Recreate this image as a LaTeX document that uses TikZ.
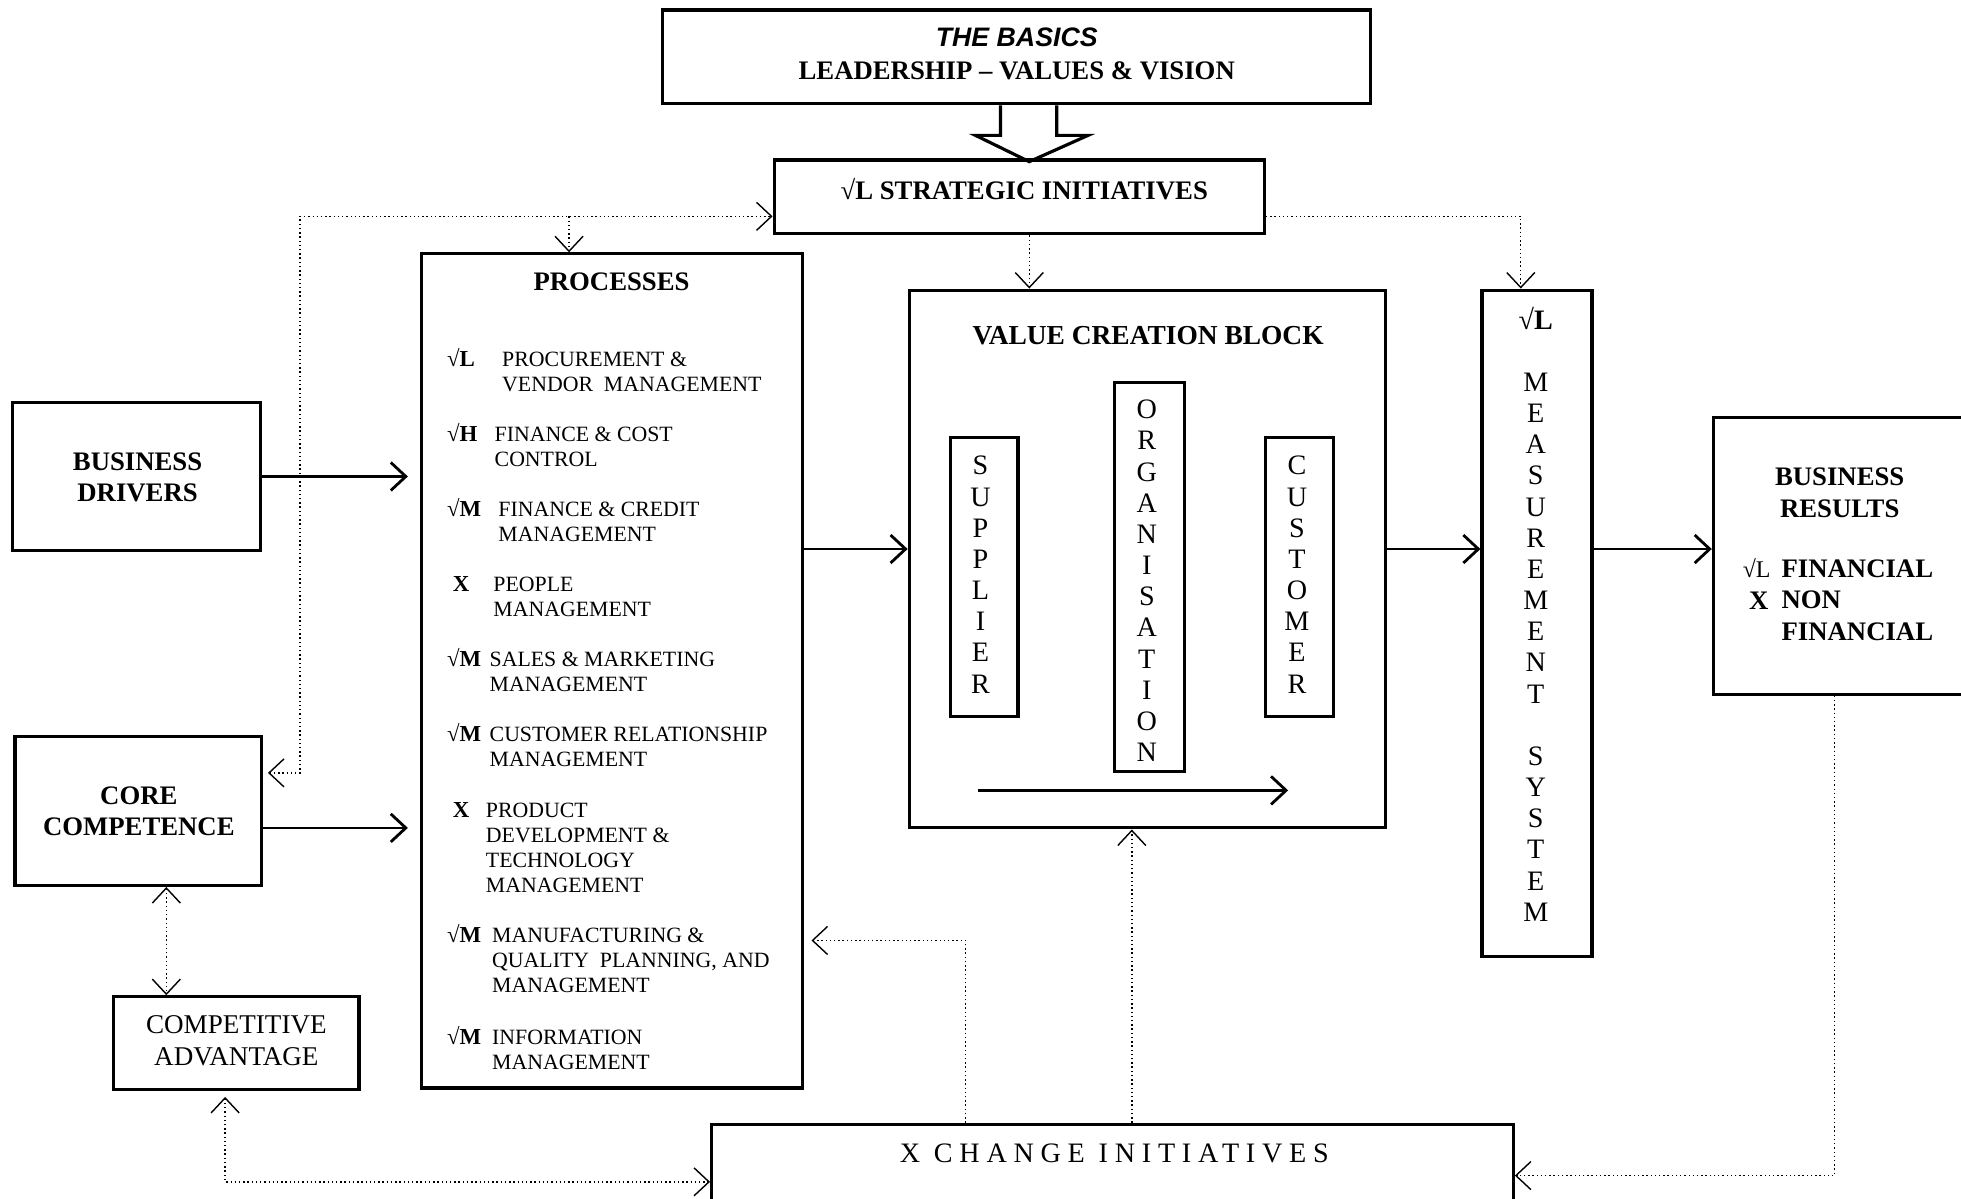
\documentclass[tikz,border=0pt]{standalone}
\usepackage{fontspec}
\setmainfont{Liberation Serif}
\newfontfamily\basicsfont{Liberation Sans}
\newfontfamily\spacedfont[LetterSpace=24]{Liberation Serif}
\usetikzlibrary{arrows.meta,fit}

\tikzset{
  block/.style={draw, line width=0.9pt, inner sep=0pt},
  title/.style={font=\fontsize{7.6}{8.86}\selectfont\bfseries, align=center, inner sep=0pt},
  normaltext/.style={font=\fontsize{7.7}{9.2}\selectfont, align=center, inner sep=0pt},
  letters/.style={font=\fontsize{8}{8.86}\selectfont, align=center, inner sep=0pt},
  chk/.style={font=\fontsize{6.5}{7.11}\selectfont\bfseries, inner sep=0pt, anchor=base west},
  item/.style={font=\fontsize{6.2}{7.11}\selectfont, inner sep=0pt, anchor=base west},
  bolditem/.style={font=\fontsize{7.6}{8.86}\selectfont\bfseries, inner sep=0pt, anchor=base west},
  flow/.style={line width=0.8pt, ->},
  feed/.style={line width=0.4pt, dash pattern=on 0.4pt off 0.8pt},
}

\begin{document}
\begin{tikzpicture}[x=0.0125cm, y=-0.0125cm, >={Straight Barb[length=1.5mm,width=2.8mm]}]
  \useasboundingbox (0,0) rectangle (1568,958);
  \clip (0,0) rectangle (1568,958);

  % top
  \node[block, fit={(530,8) (1096,83)}] (basics) {};
  \node[title, font=\fontsize{7.6}{9.2}\selectfont\bfseries] (basicslbl) at (813,43) {{\basicsfont\itshape THE BASICS}\\LEADERSHIP -- VALUES \& VISION};
  \node[block, fit={(619,128) (1011,187)}] (strat) {};
  \node[title] (stratlbl) at (819,151) {√L STRATEGIC INITIATIVES};
  \draw[line width=0.9pt] (basics.south) ++(-13,0) -- ++(0,24) -- ++(-20,0) -- ++(43,21) -- ++(47,-21) -- ++(-25,0) -- ++(0,-24);

  % left column
  \node[block, fit={(10,322) (208,440)}] (drv) {};
  \node[title] (drvlbl) at (110,381.5) {BUSINESS\\DRIVERS};
  \node[block, fit={(12,589) (209,708)}] (core) {};
  \node[title] (corelbl) at (111,648.5) {CORE\\COMPETENCE};
  \node[block, fit={(91,797) (287,871)}] (adv) {};
  \node[normaltext] (advlbl) at (189,832) {COMPETITIVE\\ADVANTAGE};

  % processes
  \node[block, fit={(337,203) (642,870)}] (proc) {};
  \node[title] (proclbl) at (489,225) {PROCESSES};
  \foreach \y/\tx/\mk/\txt [count=\i] in {
    287/401/{√L}/{PROCUREMENT \&\\VENDOR\ \ MANAGEMENT},
    347/395/{√H}/{FINANCE \& COST\\CONTROL},
    407/398/{√M}/{FINANCE \& CREDIT\\MANAGEMENT},
    467/394/{\ X}/{PEOPLE\\MANAGEMENT},
    527/391/{√M}/{SALES \& MARKETING\\MANAGEMENT},
    587/391/{√M}/{CUSTOMER RELATIONSHIP\\MANAGEMENT},
    648/388/{\ X}/{PRODUCT\\DEVELOPMENT \&\\TECHNOLOGY\\MANAGEMENT},
    748/393/{√M}/{MANUFACTURING \&\\QUALITY\ \ PLANNING, AND\\MANAGEMENT},
    829/393/{√M}/{INFORMATION\\MANAGEMENT}}{
    \node[chk] (pm\i) at (357,\y+6) {\mk};
    \node[item] (pt\i) at (\tx,\y+6) {\begin{tabular}[t]{@{}l@{}}\txt\end{tabular}};
  }

  % value creation block
  \node[block, fit={(727,232) (1108,662)}] (vcb) {};
  \node[title, font=\fontsize{7.8}{8.86}\selectfont\bfseries] (vcblbl) at (918,268) {VALUE CREATION BLOCK};
  \node[block, fit={(760,350) (814,573)}] (sup) {};
  \node[letters] (suplbl) at (784,459.5) {S\\U\\P\\P\\L\\I\\E\\R};
  \node[block, fit={(891,306) (947,617)}] (org) {};
  \node[letters] (orglbl) at (917,464.5) {O\\R\\G\\A\\N\\I\\S\\A\\T\\I\\O\\N};
  \node[block, fit={(1012,350) (1066,573)}] (cus) {};
  \node[letters] (cuslbl) at (1037,459.5) {C\\U\\S\\T\\O\\M\\E\\R};
  \coordinate (flowa) at (782,632);
  \coordinate (flowb) at (1030,632);
  \draw[flow] (flowa) -- (flowb);

  % measurement
  \node[block, fit={(1185,232) (1273,765)}] (meas) {};
  \node[letters] (measlbl) at (1228,491) {\textbf{√L}\\[8.86pt]M\\E\\A\\S\\U\\R\\E\\M\\E\\N\\T\\[8.86pt]S\\Y\\S\\T\\E\\M};

  % results
  \node[block, fit={(1370,334) (1590,555)}] (res) {};
  \node[title] (reslbl) at (1471,394) {BUSINESS\\RESULTS};
  \node[bolditem, font=\fontsize{6.8}{8.86}\selectfont] (resm1) at (1393,462) {√L};
  \node[bolditem] (resm2) at (1398,487) {X};
  \node[bolditem] (reslist) at (1424,462) {\begin{tabular}[t]{@{}l@{}}FINANCIAL\\NON\\FINANCIAL\end{tabular}};

  % change
  \node[block, fit={(569,899) (1210,985)}] (chg) {};
  \node[normaltext, font=\fontsize{8}{9}\selectfont\spacedfont] (chglbl) at (891,922) {X CHANGE INITIATIVES};

  % solid arrows
  \coordinate (row) at (0,439);
  \coordinate (corerow) at (0,662);
  \draw[flow, shorten >=1.2mm] (drv) -- (drv -| proc.west);
  \draw[flow, shorten >=1.2mm] (core.east |- corerow) -- (proc.west |- corerow);
  \draw[flow] (proc.east |- row) -- (vcb.west |- row);
  \draw[flow] (vcb.east |- row) -- (meas.west |- row);
  \draw[flow] (meas.east |- row) -- (res.west |- row);

  % dotted feedback
  \coordinate (fbl) at (240,618);
  \coordinate (ftl) at (240,173);
  \coordinate (ftp) at (455,173);
  \coordinate (ftr) at (1216,173);
  \coordinate (fvc) at (823,0);
  \coordinate (fca) at (133,0);
  \coordinate (fbb) at (180,945);
  \coordinate (fpm) at (772,752);
  \coordinate (fvb) at (905,0);
  \coordinate (frs) at (1467,940);
  \draw[feed,<->, shorten <=0.5mm] (core.east |- fbl) -- (fbl) -- (ftl) -- (strat.west |- ftl);
  \draw[feed,->] (ftp) -- (proc.north -| ftp);
  \draw[feed,->] (strat.east |- ftr) -- (ftr) -- (meas.north -| ftr);
  \draw[feed,->] (strat.south -| fvc) -- (vcb.north -| fvc);
  \draw[feed,<->] (core.south -| fca) -- (adv.north -| fca);
  \draw[feed,<->, shorten <=0.6mm] (adv.south -| fbb) -- (fbb) -- (chg.west |- fbb);
  \draw[feed,->, shorten >=0.7mm] (chg.north -| fpm) -- (fpm) -- (proc.east |- fpm);
  \draw[feed,->] (chg.north -| fvb) -- (vcb.south -| fvb);
  \draw[feed,->] (res.south -| frs) -- (frs) -- (chg.east |- frs);
\end{tikzpicture}
\end{document}
